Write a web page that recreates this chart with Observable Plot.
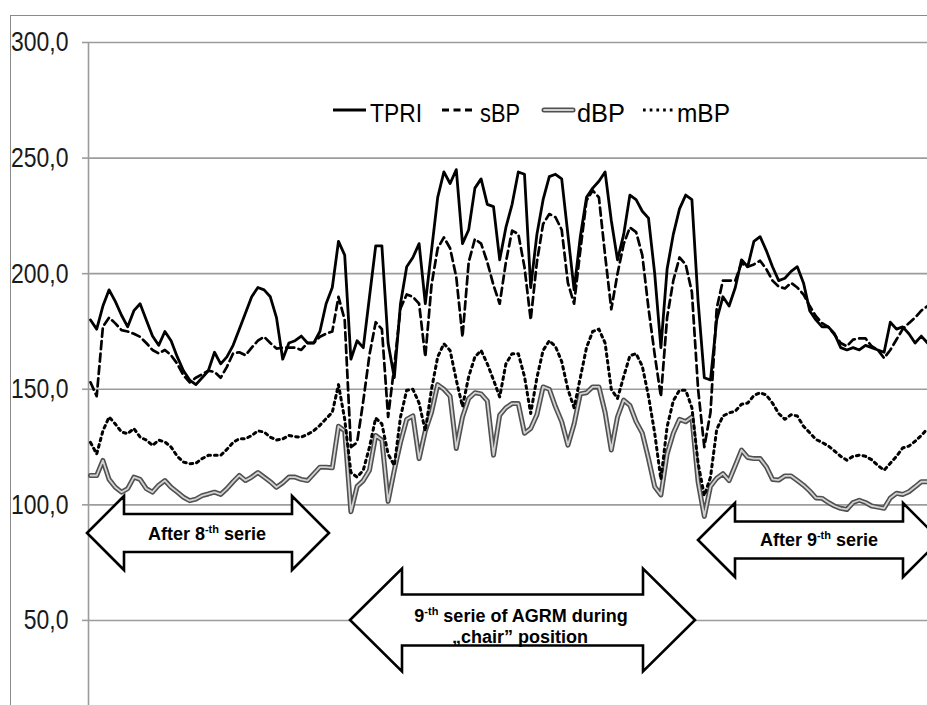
<!DOCTYPE html>
<html><head><meta charset="utf-8">
<script src="https://cdn.jsdelivr.net/npm/d3@7"></script>
<script src="https://cdn.jsdelivr.net/npm/@observablehq/plot@0.6"></script>
<style>
html,body{margin:0;padding:0;background:#fff;}
#wrap{position:relative;width:927px;height:705px;overflow:hidden;background:#fff;}
#frame{position:absolute;left:10px;top:15px;width:940px;height:720px;border-left:1px solid #8a8a8a;border-top:1px solid #8a8a8a;}
#chart{position:absolute;left:0;top:0;}
#over{position:absolute;left:0;top:0;}
</style></head><body>
<div id="wrap"><div id="frame"></div><div id="chart"></div><svg id="over" width="927" height="705" xmlns="http://www.w3.org/2000/svg"></svg></div>
<script>
const seriesNames = ["TPRI", "sBP", "dBP", "mBP"];
const yTicks = [50, 100, 150, 200, 250, 300];
const tpri = [180,176,186,193,188,182,177,184,187,180,
173,169,175,171,164,158,154,152,155,158,
166,161,164,169,176,183,190,194,193,190,
181,163,170,171,173,170,170,175,187,194,
214,208,163,171,168,190,212,212,170,155,
187,203,207,213,187,210,233,244,239,245,
213,219,237,241,230,229,206,220,230,244,
243,194,217,232,242,243,241,217,193,216,
233,237,240,244,223,206,217,234,232,227,
224,200,168,202,217,228,234,232,188,155,
154,180,190,186,194,206,203,214,216,210,
203,197,198,201,203,196,184,180,177,177,
174,168,167,168,167,169,168,167,166,179,
176,177,174,170,173,170];
const sbp = [153,147,177,181,178.5,175.6,175,174,172.7,170,
167,165.5,167,164.7,161,156,153,155,156.5,158,
157.5,155,159.7,165.5,166,164.7,168,171,172.7,170,
167.6,168,168,168,167,170,170,172.7,174,175,
190,180,125,127,145,165,179,176,138,160,
185,191,190,187,164,195,211,215.7,211,198.5,
172.6,205,215,213,205,195,187,205,218.6,217.2,
202.8,180,205,221.5,225.8,224.4,219,196,187,210,
231.6,236,233,208,184.6,200,212.8,220,218,208,
185,165,146.8,181,197,207,204,192,150,125,
140,185,197,197,197,204.5,203,204,205.6,202,
197,194.4,193.6,196,194,191,186,181.6,178.6,177,
173.6,170,168.6,171.5,172,172,168.6,167,163.5,167,
171.5,176,178.6,181,184,186];
const mbp = [127,122,132,138,135,131.5,130.8,133,129.3,128,
125.7,128,127.2,125,121,118.5,117.8,118,120,121.4,
121.4,121.4,124,127,128.6,128.6,130,132,131.5,129.3,
128,128.5,130,129.5,129.3,130.5,132,134.4,137.3,140,
152,137,114,112,115,125,137.6,135,122,117,
138,149.6,150,144,132,150,164,169.7,166.8,154,
142.5,155.5,164,166.8,161,154,146.7,161,165.4,165.4,
155.5,139.5,155,166.8,171,168.5,162,150,142,155,
168,175,176,170,150,146,155.5,164.5,165.4,160,
147,131,111,133.7,145,149.6,149.6,142,118,104,
112,132.6,138.4,139.8,140.5,143.5,144,147.3,148.5,147.5,
144,139.5,137,139,138.4,134,131.2,128.3,127,125.5,
123.3,121,119.3,121,121.5,121,119.5,117,115,118,
121,124.6,125.4,127.5,130,133];
const dbp = [112.7,112.7,119.2,111,107.6,105.5,107,112,111,107,
105.5,108.5,110.5,107.6,105.5,103.3,101.8,102.5,104,104.7,
105.5,104.5,107,110,112.7,110.5,112,114,112,110,
107.6,109.5,112,112,111,110.5,113.4,116.3,116.3,116,
134,132,97,108,110.5,115,130,128,101.5,115,
127,137,138.5,120,132,140,152,150,147,124.4,
138,146,148.5,148,145,121.5,138.8,142,143.8,143.8,
131,133,139,151,150,142.4,136,125.8,135,148,
148.5,151,151,140,123.7,138,145.3,143,136,131,
120,107.8,104.3,122,131,137,136,138,110,95,
108,111.5,113.5,110.5,117,123.7,120.5,120,120,116.5,
111,110.7,112.5,112.5,110.5,108.5,106,103,102.8,101,
99.5,98.5,98,101,102,101,99.5,99,98.5,103,
105,104.5,105.7,107.8,110,110];
const arrowLabels = [["After 8", "-th", " serie"], ["After 9", "-th", " serie"], ["9", "-th", " serie of AGRM during"], ["„chair” position"]];

const rows = arr => arr.map((v, i) => ({i, v}));
const font = "'Liberation Sans',Arial,sans-serif";
const grid = "#9c9c9c";

const chart = Plot.plot({
  width: 927, height: 705,
  marginLeft: 90, marginRight: 0, marginTop: 42, marginBottom: 0,
  x: {domain: [0, tpri.length - 1], axis: null},
  y: {domain: [13.2, 300], axis: null},
  style: {background: "transparent", fontFamily: font, overflow: "visible"},
  marks: [
    Plot.gridY(yTicks, {stroke: grid, strokeOpacity: 1, strokeWidth: 1.6}),
    Plot.axisY(yTicks, {label: null, tickSize: 8, tickPadding: 14, fontSize: 28, stroke: grid, strokeWidth: 1.6, fill: "#1a1a1a",
      tickFormat: d => d.toFixed(1).replace(".", ",")}),
    Plot.ruleX([0], {dx: -2, stroke: grid, strokeWidth: 1.6}),
    Plot.line(rows(dbp), {x: "i", y: "v", stroke: "#505050", strokeWidth: 5}),
    Plot.line(rows(dbp), {x: "i", y: "v", stroke: "#d2d2d2", strokeWidth: 1.8}),
    Plot.line(rows(mbp), {x: "i", y: "v", stroke: "#000", strokeWidth: 3, strokeDasharray: "2.7,4"}),
    Plot.line(rows(sbp), {x: "i", y: "v", stroke: "#000", strokeWidth: 2.7, strokeDasharray: "8,4.5"}),
    Plot.line(rows(tpri), {x: "i", y: "v", stroke: "#000", strokeWidth: 2.8})
  ]
});
document.getElementById("chart").appendChild(chart);
// condense the tick labels (reference uses a narrow face)
chart.querySelectorAll("text").forEach(t => {
  const w = t.getComputedTextLength();
  if (w > 0) { t.setAttribute("textLength", (w * 0.82).toFixed(1)); t.setAttribute("lengthAdjust", "spacingAndGlyphs"); }
});

// overlay: legend and annotation arrows
const NS = "http://www.w3.org/2000/svg";
const over = document.getElementById("over");
function el(tag, attrs, parent) {
  const e = document.createElementNS(NS, tag);
  for (const k in attrs) e.setAttribute(k, attrs[k]);
  (parent || over).appendChild(e);
  return e;
}
// legend
const ly = 110, lb = 122;
el("line", {x1: 333, x2: 366, y1: ly, y2: ly, stroke: "#000", "stroke-width": 3});
el("line", {x1: 442, x2: 473, y1: ly, y2: ly, stroke: "#000", "stroke-width": 3, "stroke-dasharray": "7,4.5"});
el("line", {x1: 544, x2: 573, y1: ly, y2: ly, stroke: "#505050", "stroke-width": 5, "stroke-linecap": "round"});
el("line", {x1: 544, x2: 573, y1: ly, y2: ly, stroke: "#d2d2d2", "stroke-width": 1.8, "stroke-linecap": "round"});
el("line", {x1: 643, x2: 676, y1: ly, y2: ly, stroke: "#000", "stroke-width": 3, "stroke-dasharray": "2.7,4"});
[[370, 0, 52], [480, 1, 40], [577, 2, 48], [677, 3, 53]].forEach(([x, k, w]) => {
  const t = el("text", {x, y: lb, "font-family": font, "font-size": 26, fill: "#000", textLength: w, lengthAdjust: "spacingAndGlyphs"});
  t.textContent = seriesNames[k];
});
// arrows
function arrow(x1, x2, cy, bh, hh, hw) {
  const p = [[x1, cy], [x1 + hw, cy - hh], [x1 + hw, cy - bh], [x2 - hw, cy - bh], [x2 - hw, cy - hh], [x2, cy],
    [x2 - hw, cy + hh], [x2 - hw, cy + bh], [x1 + hw, cy + bh], [x1 + hw, cy + hh]];
  el("polygon", {points: p.map(d => d.join(",")).join(" "), fill: "#fff", stroke: "#000", "stroke-width": 2.6, "stroke-linejoin": "miter"});
}
function label(x, y, parts, size) {
  const t = el("text", {x, y, "text-anchor": "middle", "font-family": font, "font-weight": "bold", "font-size": size, fill: "#000"});
  if (parts.length === 1) { t.textContent = parts[0]; return; }
  const a = el("tspan", {}, t); a.textContent = parts[0];
  const b = el("tspan", {"font-size": Math.round(size * 0.6), dy: -7}, t); b.textContent = parts[1];
  const c = el("tspan", {dy: 7}, t); c.textContent = parts[2];
}
arrow(87, 329, 533, 19, 37, 37);
label(207, 540, arrowLabels[0], 18);
arrow(350, 695, 620, 25.5, 51.5, 52);
label(521, 622, arrowLabels[2], 18);
label(520, 643, arrowLabels[3], 18);
arrow(698, 940, 540, 18.5, 37, 37);
label(819, 546, arrowLabels[1], 18);
</script>
</body></html>
